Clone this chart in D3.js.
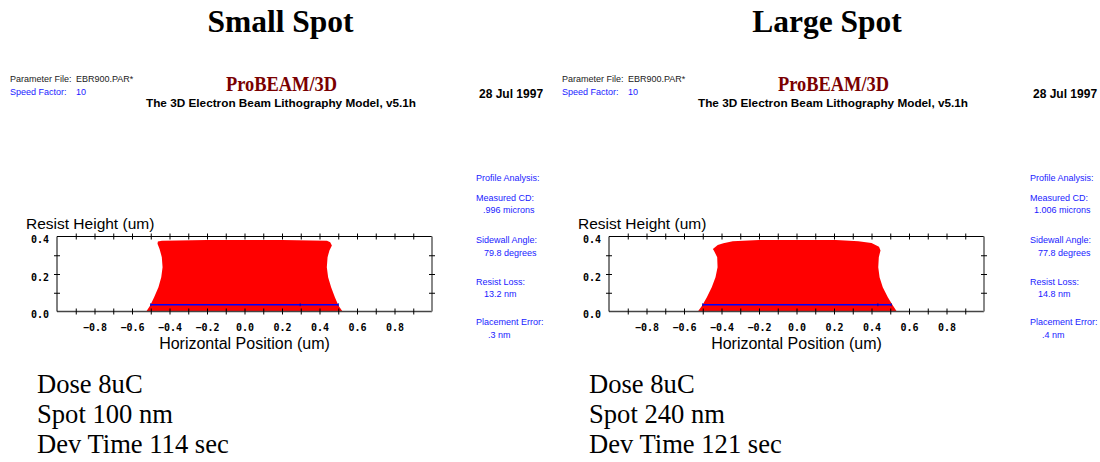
<!DOCTYPE html>
<html>
<head>
<meta charset="utf-8">
<script src="https://cdn.jsdelivr.net/npm/d3@7"></script>
<style>
body { margin: 0; background: #fff; }
</style>
</head>
<body>
<div class="chart"></div>
<script>
// panel texts
var titles = ["Small Spot", "Large Spot"];
var doseText = ["Dose 8uC", "Dose 8uC"];
var spotText = ["Spot 100 nm", "Spot 240 nm"];
var devText = ["Dev Time 114 sec", "Dev Time 121 sec"];
var cdValues = [".996 microns", "1.006 microns"];
var angleValues = ["79.8 degrees", "77.8 degrees"];
var lossValues = ["13.2 nm", "14.8 nm"];
var placeValues = [".3 nm", ".4 nm"];

// axis ticks
var xLabelTicks = [-0.8, -0.6, -0.4, -0.2, 0, 0.2, 0.4, 0.6, 0.8];
var xMinorTicks = [-0.9, -0.8, -0.7, -0.6, -0.5, -0.4, -0.3, -0.2, -0.1, 0, 0.1, 0.2, 0.3, 0.4, 0.5, 0.6, 0.7, 0.8, 0.9];
var yLabelTicks = [0, 0.2, 0.4];
var yMinorTicks = [0.1, 0.2, 0.3];

// resist profile outlines (um), bottom-left round to bottom-right
var smallX = [-0.524, -0.503, -0.482, -0.459, -0.444, -0.437, -0.441, -0.453, -0.464, -0.462, -0.44, -0.2, 0.0, 0.2, 0.44, 0.457, 0.466, 0.453, 0.443, 0.439, 0.446, 0.462, 0.482, 0.501, 0.523];
var smallY = [0, 0.032, 0.076, 0.13, 0.183, 0.236, 0.29, 0.334, 0.361, 0.373, 0.378, 0.381, 0.382, 0.381, 0.377, 0.37, 0.352, 0.325, 0.29, 0.236, 0.183, 0.13, 0.076, 0.032, 0];
var largeX = [-0.526, -0.503, -0.478, -0.452, -0.432, -0.421, -0.423, -0.441, -0.446, -0.42, -0.39, -0.34, -0.2, 0.21, 0.33, 0.4, 0.44, 0.448, 0.439, 0.436, 0.443, 0.46, 0.487, 0.514, 0.535];
var largeY = [0, 0.032, 0.076, 0.13, 0.183, 0.236, 0.29, 0.325, 0.334, 0.355, 0.364, 0.375, 0.382, 0.382, 0.375, 0.365, 0.345, 0.325, 0.29, 0.236, 0.183, 0.13, 0.076, 0.032, 0];

// measured CD line
var cdY = [0.036, 0.036];
var cdLeft = [-0.5, -0.5];
var cdRight = [0.5, 0.505];
var cdMark = [0.297, 0.434];

var profiles = [d3.zip(smallX, smallY), d3.zip(largeX, largeY)];
var offsets = [0, 552];

var svg = d3.select(".chart").append("svg")
    .attr("width", 1100)
    .attr("height", 462)
    .style("font-family", "'Liberation Sans', Arial, sans-serif");

var x = d3.scaleLinear().domain([-1, 1]).range([57, 432]);
var y = d3.scaleLinear().domain([0, 0.4]).range([311.5, 236.5]);
var blue = "#1a1aff";

offsets.forEach(function (dx, i) {
    var g = svg.append("g").attr("transform", "translate(" + dx + ",0)");

    g.append("text")
        .attr("x", i == 0 ? 280.5 : 275).attr("y", 32)
        .attr("text-anchor", "middle")
        .style("font-family", "'Liberation Serif', 'Times New Roman', serif")
        .style("font-weight", "bold")
        .style("font-size", "31.5px")
        .text(titles[i]);

    // header
    g.append("text").attr("x", 10).attr("y", 82).style("font-size", "9px").attr("fill", "#222").text("Parameter File:");
    g.append("text").attr("x", 76).attr("y", 82).style("font-size", "9px").attr("fill", "#222").text("EBR900.PAR*");
    g.append("text").attr("x", 10).attr("y", 94.5).style("font-size", "9px").attr("fill", blue).text("Speed Factor:");
    g.append("text").attr("x", 76).attr("y", 94.5).style("font-size", "9px").attr("fill", blue).text("10");

    g.append("text")
        .attr("x", 226).attr("y", 91)
        .attr("textLength", 111).attr("lengthAdjust", "spacingAndGlyphs")
        .style("font-family", "'Liberation Serif', 'Times New Roman', serif")
        .style("font-weight", "bold")
        .style("font-size", "22px")
        .attr("fill", "#7a0000")
        .text("ProBEAM/3D");
    g.append("text")
        .attr("x", 146).attr("y", 106.5)
        .attr("textLength", 270).attr("lengthAdjust", "spacingAndGlyphs")
        .style("font-weight", "bold")
        .style("font-size", "11px")
        .text("The 3D Electron Beam Lithography Model, v5.1h");
    g.append("text")
        .attr("x", 479 + (i == 0 ? 0 : 2)).attr("y", 97.5)
        .style("font-weight", "bold")
        .style("font-size", "12px")
        .text("28 Jul 1997");

    // profile analysis column
    var ax = 476 + (i == 0 ? 0 : 2);
    var notes = [
        ["Profile Analysis:", 0, 181],
        ["Measured CD:", 0, 201],
        [cdValues[i], i == 0 ? 7 : 4, 213],
        ["Sidewall Angle:", 0, 243],
        [angleValues[i], 8, 256],
        ["Resist Loss:", 0, 285],
        [lossValues[i], 8, 297],
        ["Placement Error:", 0, 325],
        [placeValues[i], 12, 338]
    ];
    g.selectAll("text.note")
        .data(notes)
        .enter()
        .append("text")
        .attr("class", "note")
        .attr("x", function (d) { return ax + d[1]; })
        .attr("y", function (d) { return d[2]; })
        .attr("fill", blue)
        .style("font-size", "9px")
        .text(function (d) { return d[0]; });

    // resist profile
    var line = d3.line()
        .x(function (d) { return x(d[0]); })
        .y(function (d) { return y(d[1]); })
        .curve(d3.curveLinearClosed);
    g.append("path")
        .attr("d", line(profiles[i]))
        .attr("fill", "#ff0000");

    // CD line
    g.append("line")
        .attr("x1", x(cdLeft[i])).attr("x2", x(cdRight[i]))
        .attr("y1", y(cdY[i])).attr("y2", y(cdY[i]))
        .attr("stroke", "#0000ff").attr("stroke-width", 1.5);
    g.selectAll("line.mark")
        .data([cdLeft[i], cdMark[i], cdRight[i]])
        .enter()
        .append("line")
        .attr("class", "mark")
        .attr("x1", function (d) { return x(d); })
        .attr("x2", function (d) { return x(d); })
        .attr("y1", y(cdY[i]) - 1.5)
        .attr("y2", y(cdY[i]) + 1.5)
        .attr("stroke", "#0000aa").attr("stroke-width", 1);

    // frame
    g.append("line").attr("x1", x(-1)).attr("x2", x(1)).attr("y1", y(0.4)).attr("y2", y(0.4)).attr("stroke", "#000");
    g.append("line").attr("x1", x(-1)).attr("x2", x(1)).attr("y1", y(0)).attr("y2", y(0)).attr("stroke", "#444").attr("stroke-width", 1.5);
    g.append("line").attr("x1", x(-1)).attr("x2", x(-1)).attr("y1", y(0)).attr("y2", y(0.4)).attr("stroke", "#000");
    g.append("line").attr("x1", x(1)).attr("x2", x(1)).attr("y1", y(0)).attr("y2", y(0.4)).attr("stroke", "#888").attr("stroke-width", 2);

    // crossing ticks
    [y(0.4), y(0)].forEach(function (yy) {
        var t = g.append("g")
            .attr("transform", "translate(0," + (yy - 3) + ")")
            .call(d3.axisBottom(x).tickValues(xMinorTicks).tickSize(6).tickFormat(""));
        t.select(".domain").remove();
        t.selectAll("line").attr("stroke", "#000");
    });
    [x(-1), x(1)].forEach(function (xx) {
        var t = g.append("g")
            .attr("transform", "translate(" + (xx - 3) + ",0)")
            .call(d3.axisRight(y).tickValues(yMinorTicks).tickSize(6).tickFormat(""));
        t.select(".domain").remove();
        t.selectAll("line").attr("stroke", "#000");
    });

    // tick labels
    var xl = g.append("g")
        .attr("transform", "translate(0," + y(0) + ")")
        .call(d3.axisBottom(x).tickValues(xLabelTicks).tickSize(0).tickPadding(12).tickFormat(d3.format(".1f")));
    xl.select(".domain").remove();
    xl.selectAll("text")
        .style("font-family", "'DejaVu Sans Mono', monospace")
        .style("font-weight", "bold")
        .style("font-size", "10px")
        .attr("fill", "#000");

    var yl = g.append("g")
        .attr("transform", "translate(" + x(-1) + ",0)")
        .call(d3.axisLeft(y).tickValues(yLabelTicks).tickSize(0).tickPadding(8).tickFormat(d3.format(".1f")));
    yl.select(".domain").remove();
    yl.selectAll("text")
        .attr("y", 3)
        .style("font-family", "'DejaVu Sans Mono', monospace")
        .style("font-weight", "bold")
        .style("font-size", "10px")
        .attr("fill", "#000");

    // axis titles
    g.append("text")
        .attr("x", 26).attr("y", 229)
        .style("font-size", "15.5px")
        .text("Resist Height (um)");
    g.append("text")
        .attr("x", x(0)).attr("y", 349)
        .attr("text-anchor", "middle")
        .style("font-size", "16px")
        .text("Horizontal Position (um)");

    // run notes
    g.selectAll("text.run")
        .data([doseText[i], spotText[i], devText[i]])
        .enter()
        .append("text")
        .attr("class", "run")
        .attr("x", 37)
        .attr("y", function (d, k) { return 393 + k * 30; })
        .style("font-family", "'Liberation Serif', 'Times New Roman', serif")
        .style("font-size", "26.6px")
        .text(function (d) { return d; });
});
</script>
</body>
</html>
